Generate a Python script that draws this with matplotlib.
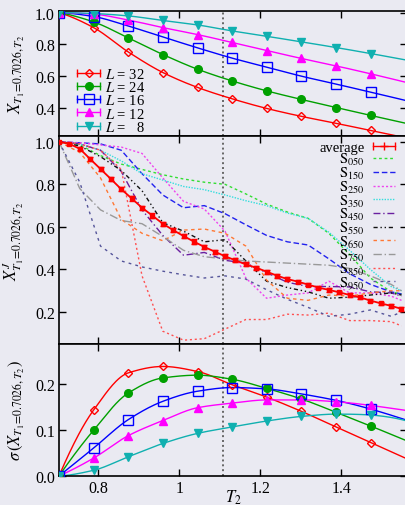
import numpy as np
import matplotlib
matplotlib.use('Agg')
import matplotlib.pyplot as plt
from matplotlib.legend_handler import HandlerBase
from matplotlib.lines import Line2D

plt.rcParams['font.family'] = ['Liberation Serif', 'DejaVu Serif']
plt.rcParams['mathtext.fontset'] = 'stix'
plt.rcParams['font.size'] = 11

BG = '#eaeaf2'

# ---------------- data ----------------
T2 = [0.7026, 0.7882, 0.8738, 0.9594, 1.0450, 1.1306, 1.2162, 1.3018, 1.3874, 1.4730]
L_labels = ['$L$ = 32', '$L$ = 24', '$L$ = 16', '$L$ = 12', '$L$ =   8']

X_L32 = [1.0, 0.905, 0.751, 0.621, 0.527, 0.455, 0.394, 0.344, 0.300, 0.255]
X_L24 = [1.0, 0.941, 0.840, 0.735, 0.642, 0.568, 0.505, 0.451, 0.400, 0.350]
X_L16 = [1.0, 0.975, 0.915, 0.846, 0.777, 0.712, 0.655, 0.598, 0.548, 0.497]
X_L12 = [1.0, 0.990, 0.953, 0.905, 0.861, 0.811, 0.760, 0.710, 0.663, 0.613]
X_L8 = [1.0, 0.994, 0.979, 0.950, 0.922, 0.884, 0.850, 0.815, 0.779, 0.741]

SIG_L32 = [0.0, 0.144, 0.225, 0.239, 0.228, 0.199, 0.172, 0.141, 0.107, 0.073]
SIG_L24 = [0.0, 0.100, 0.181, 0.214, 0.220, 0.211, 0.191, 0.168, 0.139, 0.109]
SIG_L16 = [0.0, 0.061, 0.123, 0.163, 0.185, 0.193, 0.190, 0.179, 0.165, 0.146]
SIG_L12 = [0.0, 0.039, 0.088, 0.121, 0.149, 0.159, 0.166, 0.166, 0.162, 0.154]
SIG_L8 = [0.0, 0.0125, 0.042, 0.071, 0.093, 0.107, 0.120, 0.130, 0.135, 0.133]

# average X^J over samples (fine temperature grid)
T2_avg = np.linspace(0.7026, 1.549, 34)
XJ_avg = [1.0, 0.99, 0.967, 0.919, 0.872, 0.825, 0.777, 0.734, 0.690, 0.653,
          0.615, 0.585, 0.557, 0.531, 0.506, 0.484, 0.462, 0.443, 0.424, 0.408,
          0.390, 0.371, 0.355, 0.343, 0.329, 0.315, 0.304, 0.293, 0.280, 0.269,
          0.254, 0.241, 0.229, 0.215]
XJ_avg_err = [0.0, 0.004, 0.006, 0.008, 0.009, 0.010, 0.010, 0.010, 0.010, 0.010,
              0.010, 0.010, 0.010, 0.010, 0.010, 0.009, 0.009, 0.009, 0.009, 0.009,
              0.009, 0.009, 0.008, 0.008, 0.008, 0.008, 0.008, 0.008, 0.008, 0.008,
              0.008, 0.008, 0.008, 0.008]

# individual samples
T2_s = [0.7026, 0.7539, 0.8052, 0.8565, 0.9078, 0.9591, 1.0104, 1.0617, 1.1130,
        1.1643, 1.2156, 1.2669, 1.3182, 1.3695, 1.4208, 1.4721, 1.5234, 1.5490]
S050 = [1.0, 0.985, 0.935, 0.895, 0.87, 0.845, 0.825, 0.81, 0.80, 0.755, 0.707, 0.67, 0.64, 0.57, 0.47, 0.36, 0.295, 0.285]
S150 = [1.0, 0.995, 0.99, 0.96, 0.85, 0.75, 0.69, 0.70, 0.662, 0.61, 0.56, 0.53, 0.515, 0.45, 0.38, 0.33, 0.295, 0.285]
S250 = [1.0, 0.995, 0.985, 0.975, 0.945, 0.83, 0.72, 0.684, 0.58, 0.36, 0.265, 0.28, 0.29, 0.345, 0.29, 0.29, 0.275, 0.255]
S350 = [1.0, 0.99, 0.96, 0.91, 0.85, 0.82, 0.79, 0.775, 0.75, 0.723, 0.70, 0.665, 0.64, 0.575, 0.49, 0.40, 0.32, 0.30]
S450 = [1.0, 0.99, 0.96, 0.86, 0.68, 0.56, 0.467, 0.48, 0.443, 0.43, 0.385, 0.34, 0.32, 0.32, 0.318, 0.295, 0.29, 0.275]
S550 = [1.0, 0.98, 0.93, 0.865, 0.77, 0.62, 0.58, 0.53, 0.54, 0.44, 0.345, 0.315, 0.295, 0.265, 0.27, 0.28, 0.29, 0.28]
S650 = [1.0, 0.95, 0.83, 0.635, 0.57, 0.535, 0.585, 0.59, 0.57, 0.51, 0.35, 0.265, 0.255, 0.28, 0.275, 0.29, 0.30, 0.30]
S750 = [1.0, 0.78, 0.68, 0.63, 0.615, 0.555, 0.49, 0.46, 0.45, 0.44, 0.435, 0.43, 0.425, 0.42, 0.405, 0.37, 0.33, 0.30]
S850 = [1.0, 0.99, 0.96, 0.87, 0.37, 0.11, 0.068, 0.075, 0.12, 0.165, 0.165, 0.19, 0.186, 0.195, 0.16, 0.16, 0.155, 0.135]
S950 = [1.0, 0.81, 0.51, 0.44, 0.412, 0.392, 0.375, 0.36, 0.37, 0.355, 0.305, 0.26, 0.222, 0.18, 0.19, 0.21, 0.18, 0.20]
sample_labels = ['050', '150', '250', '350', '450', '550', '650', '750', '850', '950']

T1_mark = 1.109

# ---------------- styles ----------------
L_colors = ['#ff0000', '#00a000', '#0000ff', '#ff00ff', '#10b0b0']
L_markers = ['D', 'o', 's', '^', 'v']
L_filled = [False, True, False, True, True]
L_ms = [4.5, 5.5, 6.5, 5.5, 6]

S_colors = ['#33dd33', '#2222ee', '#ee44ee', '#33dddd', '#6a1fa0',
            '#111111', '#ff7733', '#999999', '#ff5050', '#55559a']
S_styles = [(0, (2, 2)), (0, (4, 2)), (0, (1.5, 1.5)), (0, (1, 1)), (0, (5, 2, 1, 2)),
            (0, (3, 2, 1, 2, 1, 2)), (0, (2.5, 2.5)), (0, (6, 2, 1, 2)), (0, (1.5, 2)), (0, (2, 3))]


def pchip(x, y, xn):
    x = np.asarray(x, float)
    y = np.asarray(y, float)
    h = np.diff(x)
    d = np.diff(y) / h
    n = len(x)
    m = np.zeros(n)
    for k in range(1, n - 1):
        if d[k - 1] * d[k] > 0:
            w1 = 2 * h[k] + h[k - 1]
            w2 = h[k] + 2 * h[k - 1]
            m[k] = (w1 + w2) / (w1 / d[k - 1] + w2 / d[k])

    def end(h0, h1, d0, d1):
        mm = ((2 * h0 + h1) * d0 - h0 * d1) / (h0 + h1)
        if np.sign(mm) != np.sign(d0):
            mm = 0.0
        elif np.sign(d0) != np.sign(d1) and abs(mm) > abs(3 * d0):
            mm = 3 * d0
        return mm
    m[0] = end(h[0], h[1], d[0], d[1])
    m[-1] = end(h[-1], h[-2], d[-1], d[-2])
    xn = np.asarray(xn, float)
    idx = np.clip(np.searchsorted(x, xn) - 1, 0, n - 2)
    t = (xn - x[idx]) / h[idx]
    h00 = 2 * t**3 - 3 * t**2 + 1
    h10 = t**3 - 2 * t**2 + t
    h01 = -2 * t**3 + 3 * t**2
    h11 = t**3 - t**2
    return h00 * y[idx] + h10 * h[idx] * m[idx] + h01 * y[idx + 1] + h11 * h[idx] * m[idx + 1]


class ErrHandler(HandlerBase):
    def create_artists(self, legend, orig, xdescent, ydescent, width, height, fontsize, trans):
        y = (height - ydescent) / 2.0
        x0, x1 = -xdescent, -xdescent + width
        c = orig.get_color()
        ln = Line2D([x0, x1], [y, y], color=c, lw=1.0, transform=trans)
        caps = Line2D([x0, x1], [y, y], ls='none', marker='|', ms=6, mew=1.0, color=c, transform=trans)
        mk = Line2D([(x0 + x1) / 2], [y], ls='none', marker=orig.get_marker(), ms=orig.get_markersize(),
                    mfc=orig.get_markerfacecolor(), mec=orig.get_markeredgecolor(), mew=1.0,
                    transform=trans)
        return [ln, caps, mk]


fig = plt.figure(figsize=(4.06, 5.06), dpi=100, facecolor=BG)
LEFT = 59 / 406
WID = 348 / 406
ax1 = fig.add_axes([LEFT, 1 - 137 / 506, WID, 125 / 506])
ax2 = fig.add_axes([LEFT, 1 - 345 / 506, WID, 208 / 506])
ax3 = fig.add_axes([LEFT, 1 - 477 / 506, WID, 132 / 506])

xlo, xhi = 0.7026, 1.5626
tf = np.linspace(xlo, xhi, 300)

for ax in (ax1, ax2, ax3):
    ax.set_facecolor(BG)
    ax.set_xlim(xlo, xhi)
    ax.set_xticks([0.8, 1.0, 1.2, 1.4])
    ax.tick_params(direction='in', length=5, width=1.0, top=True, right=True,
                   labelsize=11.5, pad=3)
    for sp in ax.spines.values():
        sp.set_linewidth(1.2)
    ax.axvline(T1_mark, color='#666666', lw=1.4, ls=(0, (1, 1.5)), zorder=1)

# ---- top panel ----
X_series = [X_L32, X_L24, X_L16, X_L12, X_L8]
handles = []
for i, ys in enumerate(X_series):
    c = L_colors[i]
    ax1.plot(tf, pchip(T2, ys, tf), color=c, lw=1.0, zorder=2)
    h, = ax1.plot(T2, ys, ls='none', marker=L_markers[i], ms=L_ms[i], color=c,
                  mfc=c if L_filled[i] else 'none', mec=c, mew=1.0, zorder=3)
    handles.append(h)
ax1.set_ylim(0.22, 1.01)
ax1.set_yticks([0.4, 0.6, 0.8, 1.0])
ax1.set_yticklabels(['0.4', '0.6', '0.8', '1.0'])
ax1.tick_params(labelbottom=False)
ax1.set_ylabel(r'$X_{T_1\!=\!0.7026,T_2}$', fontsize=12)
ax1.yaxis.set_label_coords(-0.095, 0.5)
leg1 = ax1.legend(handles, L_labels, loc='lower left', bbox_to_anchor=(0.045, 0.0),
                  frameon=False, handler_map={Line2D: ErrHandler()}, handlelength=1.6,
                  handletextpad=0.3, labelspacing=-0.05, borderpad=0.15, borderaxespad=0,
                  fontsize=10.5)

# ---- middle panel ----
S_series = [S050, S150, S250, S350, S450, S550, S650, S750, S850, S950]
s_handles = []
for i, ys in enumerate(S_series):
    h, = ax2.plot(T2_s, ys, color=S_colors[i], ls=S_styles[i], lw=1.0, zorder=2)
    s_handles.append(h)
eb = ax2.errorbar(T2_avg, XJ_avg, yerr=XJ_avg_err, color='#ff0000', lw=1.3, marker='s', ms=3.5,
                  capsize=2, elinewidth=1.0, zorder=4)
avg_handle = Line2D([], [], color='#ff0000', marker='+', ms=6)
ax2.set_ylim(0.05, 1.027)
ax2.set_yticks([0.2, 0.4, 0.6, 0.8, 1.0])
ax2.set_yticklabels(['0.2', '0.4', '0.6', '0.8', '1.0'])
ax2.tick_params(labelbottom=False)
ax2.set_ylabel(r'$X^{J}_{T_1\!=\!0.7026,T_2}$', fontsize=12)
ax2.yaxis.set_label_coords(-0.095, 0.5)
leg_h = [avg_handle] + s_handles
leg_l = ['average'] + [r'$\mathrm{S}_{%s}$' % s for s in sample_labels]
leg2 = ax2.legend(leg_h, leg_l, loc='upper right', bbox_to_anchor=(0.966, 0.978),
                  frameon=False, markerfirst=False, handlelength=1.55, handletextpad=0.55,
                  labelspacing=-0.165, borderpad=0.0, borderaxespad=0.0, fontsize=10.5,
                  handler_map={avg_handle: ErrHandler()})

# ---- bottom panel ----
SIG_series = [SIG_L32, SIG_L24, SIG_L16, SIG_L12, SIG_L8]
for i, ys in enumerate(SIG_series):
    c = L_colors[i]
    ax3.plot(tf, pchip(T2, ys, tf), color=c, lw=1.0, zorder=2)
    ax3.plot(T2, ys, ls='none', marker=L_markers[i], ms=L_ms[i], color=c,
             mfc=c if L_filled[i] else 'none', mec=c, mew=1.0, zorder=3)
ax3.set_ylim(0.0, 0.288)
ax3.set_yticks([0.0, 0.1, 0.2])
ax3.set_yticklabels(['0.0', '0.1', '0.2'])
ax3.set_xticklabels(['0.8', '1', '1.2', '1.4'])
ax3.set_ylabel(r'$\sigma\,(X_{T_1\!=\!0.7026,T_2})$', fontsize=12)
ax3.yaxis.set_label_coords(-0.095, 0.5)
ax3.set_xlabel(r'$T_2$', fontsize=12, labelpad=-6)

fig.savefig('out.png', dpi=100, facecolor=BG)
